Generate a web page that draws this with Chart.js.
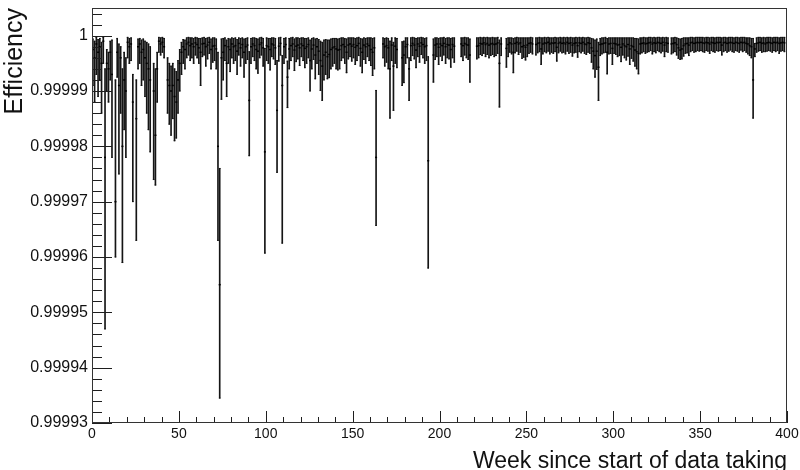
<!DOCTYPE html>
<html>
<head>
<meta charset="utf-8">
<title>Efficiency per week</title>
<script src="https://cdn.jsdelivr.net/npm/chart.js@4.4.1/dist/chart.umd.min.js"></script>
<style>
    html, body { margin: 0; padding: 0; background: #fff; }
    canvas { display: block; }
</style>
</head>
<body>
<canvas id="chart" width="800" height="470"></canvas>
<script>
// Weekly inefficiency, in units of 1e-6 (i.e. 1 - efficiency).
// One entry per week bin, null where there was no data taking.
const centerPpm = [
    2.5, 4, 1.5, 3, 2, 5, 1, 22, 5, 6,
    3, 7, null, 30, 3, 9, 4, 20, 8, 10,
    1.2, 2, 1.5, 12, null, 15, 2, 1.5, 3, 2.5,
    4, 5, 6, 8, null, 10, 18, 6, 1, 1.5,
    1.2, 2, null, 8, 9, 10, 9, 11, 12, 8,
    5, 3, 2, 2.5, 1.5, 1.2, 1.8, 1.5, 2, 1.3,
    1.6, 2.2, 3, 1.5, 1.4, 2, 1.7, 1.2, 2.5, 1.9,
    1.8, 2.4, 20, 45, 4, 3, 1.8, 5, 2, 2.5,
    1.5, 2, 1.8, 2.8, 1.4, 2.2, 1.6, 3, 2, 1.7,
    11.7, 2, 1.5, 1.8, 2.5, 2.8, 1.6, 1.3, 2.2, 21,
    1.8, 2, 2.5, 1.5, 1.7, 2.2, 13.5, 1.9, 1.4, 9,
    2, 1.6, 7.5, 2.4, 1.8, 1.5, 2.6, 1.9, 1.7, 2.2,
    1.5, 1.8, 2.3, 2, 1.6, 4.5, 2.4, 1.7, 3.5, 2,
    2.8, 4.5, 5.5, 3.5, 3, 3.8, 3.4, 2.5, 2.2, 2,
    2.4, 2.6, 2.5, 1.8, 1.6, 2, 3, 1.7, 1.5, 1.9,
    1.6, 2.1, 1.8, 1.4, 2.3, 3, 1.7, 2, 1.5, 1.8,
    2.5, 3, 2.2, 22, null, null, null, 1.5, 2, 1.8,
    2.2, 6, 1.7, 5.5, 1.9, 2.5, null, null, 4, 3.5,
    2, 1.6, 6, 1.8, 1.4, 1.7, 2.6, 1.5, 1.9, 1.3,
    1.6, 2, 1.8, 22.6, null, null, 3.5, 1.7, 1.5, 2.1,
    1.5, 1.8, 1.4, 2, 1.6, 1.7, 2.5, 1.6, 1.9, null,
    null, null, 1.5, 1.8, 1.4, 1.6, 1.7, 3.5, null, null,
    null, 1.9, 1.8, 1.4, 1.5, 1.3, 1.6, 1.4, 1.7, 1.5,
    1.4, 1.6, 1.5, 1.3, 5, 1.5, null, null, 2.3, 1.6,
    1.3, 1.5, 3, 1.4, 1.2, 1.5, 1.3, 2, 1.8, 2.1,
    1.7, 1.4, 1.3, 1.5, null, 1.6, 1.4, 1.3, 2.4, 1.5,
    1.3, 1.4, 1.2, 1.5, 1.3, 1.4, 1.3, 2.1, 1.4, 1.2,
    1.4, 1.3, 1.5, 1.2, 1.4, 1.3, 1.7, 1.4, 1.3, 1.8,
    1.3, 1.4, 1.2, 1.5, 1.6, 1.3, 1.4, 2.2, 2.8, 3.6,
    2.8, 5.7, 1.6, 1.5, 1.4, 1.3, 3, 1.5, 1.4, 2.3,
    1.4, 1.5, 1.7, 1.6, 2.1, 1.5, 1.8, 2, 1.6, 2.4,
    1.8, 2, 2.6, 2.9, 3.2, 1.5, 1.4, 1.3, 1.5, 1.4,
    1.3, 1.2, 1.5, 1.3, 1.4, 1.2, 1.3, 1.4, 1.2, 1.7,
    1.3, 1.4, null, 1.5, 1.4, 1.3, 1.6, 2.2, 2.6, 2.4,
    1.8, 1.5, 1.4, 1.7, 1.3, 1.2, 1.4, 1.3, 1.2, 1.3,
    1.2, 1.3, 1.4, 1.2, 1.3, 1.5, 1.2, 1.3, 1.4, 1.2,
    1.3, 1.2, 1.7, 1.3, 1.2, 1.4, 1.3, 1.2, 1.3, 1.4,
    1.2, 1.3, 1.4, 1.2, 1.3, 1.2, 1.4, 1.5, 1.8, 2,
    8, 2.4, 1.4, 1.3, 1.2, 1.4, 1.3, 1.5, 1.3, 1.2,
    1.3, 1.4, 1.2, 1.3, 1.2, 1.4, 1.3, 1.2, 1.3, null
];

// lower end of each error bar (largest inefficiency), same units
const lowEdgePpm = [
    9, 12, 7, 11, 8, 14, 5, 53, 10, 12,
    8, 22, null, 40, 7.5, 25, 14, 41, 17, 22,
    4, 5, 4.5, 30, null, 37, 6, 5, 9, 8,
    11, 14, 17, 21, null, 26, 27, 12, 3, 3.5,
    3, 4, null, 14, 16, 18, 15, 19, 18.5, 14,
    10, 7, 5, 6, 4, 3.5, 4.5, 4, 5, 3.5,
    4, 5, 9, 3.8, 3.5, 5.5, 4.2, 3.2, 6, 4.8,
    4.5, 6, 37, 65.5, 11.5, 8, 4.5, 11, 5, 6.5,
    4, 5, 4.5, 7, 3.5, 5.5, 4, 7.5, 5, 4.3,
    21.7, 5, 3.8, 4.5, 6, 6.8, 4, 3.5, 5.5, 39.3,
    4.5, 5, 6.2, 3.8, 4.2, 5.2, 24.7, 4.6, 3.5, 37.5,
    5, 4, 13, 6, 4.5, 3.8, 6.3, 4.7, 4.2, 5.4,
    3.8, 4.5, 5.8, 5, 4, 10, 6, 4.3, 7.8, 5,
    7, 9.9, 11.7, 8, 7, 7.8, 7.6, 6, 5.5, 5,
    6, 6.2, 6, 4.5, 4, 5, 6.7, 4.2, 3.8, 4.6,
    4, 5.2, 4.5, 3.6, 5.5, 6.7, 4.3, 5, 3.8, 4.5,
    5.4, 7.2, 6, 34.3, null, null, null, 4, 5.5, 4.8,
    6, 14.9, 4.5, 13.5, 5, 5.8, null, null, 9, 8.5,
    5, 4, 11.7, 4.5, 3.6, 4.2, 5.8, 3.8, 4.8, 3.4,
    4, 5, 4.5, 42, null, null, 8.4, 4.3, 3.8, 5.2,
    3.7, 4.5, 3.5, 5, 4, 4.2, 5.7, 4, 4.8, null,
    null, null, 3.8, 4.5, 3.5, 4, 4.3, 8.4, null, null,
    null, 4.2, 4, 3.4, 3.6, 3.2, 3.8, 3.4, 4, 3.6,
    3.4, 3.8, 3.6, 3.2, 12.9, 3.6, null, null, 5.7, 3.8,
    3, 3.3, 6.7, 3.1, 2.8, 3.4, 3, 4.1, 3.9, 4.4,
    3.8, 3.2, 3, 3.3, null, 3.5, 3.1, 2.9, 5.2, 3.3,
    2.9, 3.1, 2.8, 3.3, 3, 3.2, 2.9, 4.6, 3.1, 2.8,
    3.1, 3, 3.3, 2.8, 3.2, 3, 3.7, 3.1, 3, 3.9,
    2.9, 3.1, 2.8, 3.2, 3.4, 3, 3.2, 4.8, 6, 7.5,
    6.1, 11.7, 3.6, 3.3, 3.1, 3, 6.9, 3.3, 3.2, 5.2,
    3.2, 3.4, 3.8, 3.6, 4.7, 3.5, 4, 4.4, 3.7, 5.2,
    4.1, 4.6, 5.5, 6, 6.9, 3.3, 3.1, 2.9, 3.2, 3,
    2.9, 2.7, 3.3, 2.9, 3.1, 2.7, 2.9, 3.1, 2.8, 3.8,
    2.9, 3, null, 3.3, 3.1, 2.9, 3.5, 4.1, 4.3, 4.2,
    3.7, 3.2, 3.1, 3.6, 2.9, 2.7, 3, 2.9, 2.7, 2.8,
    2.7, 2.9, 3, 2.7, 2.8, 3.2, 2.7, 2.9, 3, 2.7,
    2.8, 2.7, 3.5, 2.9, 2.7, 3, 2.8, 2.6, 2.9, 3,
    2.7, 2.8, 3, 2.6, 2.9, 2.7, 3, 3.3, 3.6, 4,
    14.9, 3.8, 3, 2.8, 2.7, 3, 2.9, 2.9, 2.8, 2.7,
    2.8, 3, 2.7, 2.9, 2.7, 3.2, 2.8, 2.7, 2.9, null
];

// upper end of each error bar (smallest inefficiency), same units
const highEdgePpm = [
    0.6, 1, 0.3, 0.7, 0.5, 1.2, 0.3, 6, 2.5, 3,
    1, 0.8, null, 8, 0.5, 1.5, 2, 6, 3, 4,
    0.3, 0.5, 0.4, 7, null, 8, 0.6, 0.5, 0.8, 0.6,
    1, 1.2, 1.5, 2, null, 5, 6, 3, 0.3, 0.4,
    0.3, 0.5, null, 4, 5, 5.5, 5, 6, 6.5, 4.5,
    2.5, 1.2, 0.7, 0.8, 0.4, 0.3, 0.4, 0.4, 0.5, 0.3,
    0.4, 0.5, 0.5, 0.4, 0.3, 0.5, 0.4, 0.3, 0.6, 0.4,
    0.4, 0.6, 3, 24, 0.6, 0.5, 0.4, 0.8, 0.5, 0.6,
    0.4, 0.5, 0.4, 0.7, 0.4, 0.5, 0.4, 0.6, 0.5, 0.4,
    2.9, 0.5, 0.4, 0.4, 0.5, 0.6, 0.4, 0.3, 0.5, 2.3,
    0.4, 0.5, 0.5, 0.4, 0.4, 0.5, 4.5, 0.4, 0.3, 3.6,
    0.5, 0.4, 4.6, 0.5, 0.4, 0.3, 0.6, 0.4, 0.4, 0.5,
    0.4, 0.4, 0.5, 0.5, 0.4, 0.8, 0.5, 0.4, 0.6, 0.5,
    0.7, 1, 1.2, 0.8, 0.7, 0.8, 0.8, 0.6, 0.5, 0.5,
    0.5, 0.6, 0.5, 0.4, 0.4, 0.5, 0.6, 0.4, 0.4, 0.4,
    0.4, 0.5, 0.4, 0.3, 0.5, 0.6, 0.4, 0.5, 0.4, 0.4,
    0.4, 0.5, 0.4, 9.9, null, null, null, 0.4, 0.5, 0.4,
    0.5, 1, 0.4, 1.2, 0.4, 0.5, null, null, 1.1, 1,
    0.4, 0.4, 4, 0.4, 0.3, 0.4, 0.5, 0.4, 0.4, 0.3,
    0.4, 0.5, 0.4, 3.8, null, null, 0.6, 0.4, 0.4, 0.5,
    0.4, 0.4, 0.3, 0.5, 0.4, 0.4, 0.5, 0.4, 0.4, null,
    null, null, 0.4, 0.4, 0.3, 0.4, 0.4, 0.6, null, null,
    null, 0.4, 0.4, 0.3, 0.4, 0.3, 0.4, 0.3, 0.4, 0.4,
    0.3, 0.4, 0.4, 0.3, 0.8, 0.4, null, null, 0.5, 0.4,
    0.4, 0.4, 0.5, 0.4, 0.3, 0.4, 0.4, 0.4, 0.4, 0.4,
    0.4, 0.4, 0.3, 0.4, null, 0.4, 0.4, 0.3, 0.4, 0.4,
    0.3, 0.4, 0.3, 0.4, 0.4, 0.4, 0.3, 0.4, 0.4, 0.3,
    0.4, 0.3, 0.4, 0.3, 0.4, 0.3, 0.4, 0.4, 0.3, 0.4,
    0.3, 0.4, 0.3, 0.4, 0.4, 0.3, 0.4, 0.5, 0.6, 0.8,
    0.6, 1.2, 0.5, 0.4, 0.4, 0.3, 0.5, 0.4, 0.4, 0.4,
    0.4, 0.4, 0.4, 0.4, 0.4, 0.4, 0.4, 0.4, 0.4, 0.4,
    0.4, 0.4, 0.5, 0.5, 0.6, 0.4, 0.4, 0.3, 0.4, 0.4,
    0.3, 0.3, 0.4, 0.3, 0.4, 0.3, 0.3, 0.4, 0.3, 0.4,
    0.3, 0.4, null, 0.4, 0.4, 0.3, 0.4, 0.5, 0.6, 0.5,
    0.4, 0.4, 0.4, 0.4, 0.3, 0.3, 0.4, 0.3, 0.3, 0.3,
    0.3, 0.3, 0.4, 0.3, 0.3, 0.4, 0.3, 0.3, 0.4, 0.3,
    0.3, 0.3, 0.4, 0.3, 0.3, 0.4, 0.3, 0.3, 0.3, 0.4,
    0.3, 0.3, 0.4, 0.3, 0.3, 0.3, 0.4, 0.4, 0.4, 0.5,
    0.5, 1.4, 0.4, 0.3, 0.3, 0.4, 0.3, 0.4, 0.3, 0.3,
    0.3, 0.4, 0.3, 0.3, 0.3, 0.4, 0.3, 0.3, 0.3, null
];

// axis labels
const xTickValues = [0, 50, 100, 150, 200, 250, 300, 350, 400];
const yTickValues = [0.99993, 0.99994, 0.99995, 0.99996, 0.99997, 0.99998, 0.99999, 1];

// one bin per week, plotted at the bin centre
const weeks = centerPpm.map((_, i) => i + 0.5);

function toEfficiency(ppm) {
    return 1 - ppm * 1e-6;
}

// Build the datasets from the arrays above
const errorBars = [];
const centres = [];
const barEnds = [];
weeks.forEach((week, i) => {
    if (centerPpm[i] === null) return;
    const lo = toEfficiency(lowEdgePpm[i]);
    const hi = toEfficiency(highEdgePpm[i]);
    errorBars.push({ x: week, y: [lo, hi] });
    centres.push({ x: week, y: toEfficiency(centerPpm[i]) });
    barEnds.push({ x: week, y: lo });
    barEnds.push({ x: week, y: hi });
});

// ROOT style frame with tick marks drawn on the inside of the axes
const rootFrame = {
    id: 'rootFrame',
    afterDatasetsDraw(chart) {
        const { ctx, chartArea: area, scales: { x, y } } = chart;
        ctx.save();
        ctx.strokeStyle = '#1e1e1e';
        ctx.lineWidth = 1;
        ctx.beginPath();

        // x axis: major every 50, minor every 10
        for (let v = 0; v <= 400; v += 10) {
            const px = Math.round(x.getPixelForValue(v)) + 0.5;
            const len = (v % 50 === 0) ? 12 : 6;
            ctx.moveTo(px, area.bottom);
            ctx.lineTo(px, area.bottom - len);
        }

        // y axis: major every 1e-5, minor every 2e-6
        for (let k = 0; k <= 37; k++) {
            const v = 0.99993 + k * 2e-6;
            const py = Math.round(y.getPixelForValue(v)) + 0.5;
            const len = (k % 5 === 0) ? 20 : 10;
            ctx.moveTo(area.left, py);
            ctx.lineTo(area.left + len, py);
        }
        ctx.stroke();

        // frame
        ctx.strokeStyle = '#333';
        ctx.strokeRect(Math.round(area.left) + 0.5, Math.round(area.top) + 0.5,
            Math.round(area.width) - 1, Math.round(area.height) - 1);
        ctx.restore();
    }
};

const ctx = document.getElementById('chart').getContext('2d');
new Chart(ctx, {
    type: 'bar',
    data: {
        datasets: [
            {
                type: 'bar',
                data: errorBars,
                backgroundColor: '#151515',
                borderWidth: 0,
                barThickness: 1,
                order: 3
            },
            {
                type: 'scatter',
                data: barEnds,
                pointStyle: 'line',
                pointRadius: 0.8,
                borderColor: '#111',
                borderWidth: 1,
                order: 2
            },
            {
                type: 'scatter',
                data: centres,
                pointStyle: 'line',
                pointRadius: 1,
                borderColor: '#000',
                borderWidth: 1.5,
                order: 1
            }
        ]
    },
    options: {
        responsive: false,
        animation: false,
        layout: {
            padding: { top: 8, right: 13, left: 0, bottom: 0 }
        },
        plugins: {
            legend: { display: false },
            tooltip: { enabled: false }
        },
        scales: {
            x: {
                type: 'linear',
                min: 0,
                max: 400,
                offset: false,
                grid: { display: false, drawTicks: false },
                border: { display: false },
                afterBuildTicks: scale => {
                    scale.ticks = xTickValues.map(v => ({ value: v }));
                },
                afterFit: scale => {
                    scale.height = 47;
                    scale.paddingLeft = 0;
                    scale.paddingRight = 0;
                },
                ticks: {
                    padding: 3,
                    color: '#111',
                    maxRotation: 0,
                    font: { family: 'Liberation Sans, Arial, sans-serif', size: 14 }
                },
                title: {
                    display: true,
                    text: 'Week since start of data taking',
                    align: 'end',
                    color: '#111',
                    padding: { top: 0, bottom: -5 },
                    font: { family: 'Liberation Sans, Arial, sans-serif', size: 23 }
                }
            },
            y: {
                type: 'linear',
                min: 0.99993,
                max: 1.000005,
                grid: { display: false, drawTicks: false },
                border: { display: false },
                afterBuildTicks: scale => {
                    scale.ticks = yTickValues.map(v => ({ value: v }));
                },
                afterFit: scale => {
                    scale.width = 92;
                    scale.paddingTop = 0;
                    scale.paddingBottom = 0;
                },
                ticks: {
                    padding: 4,
                    color: '#111',
                    font: { family: 'Liberation Sans, Arial, sans-serif', size: 16 },
                    callback: value => (value === 1 ? '1' : value.toFixed(5))
                },
                title: {
                    display: true,
                    text: 'Efficiency',
                    align: 'end',
                    color: '#111',
                    padding: { top: 0, bottom: 0 },
                    font: { family: 'Liberation Sans, Arial, sans-serif', size: 25 }
                }
            }
        }
    },
    plugins: [rootFrame]
});
</script>
</body>
</html>
